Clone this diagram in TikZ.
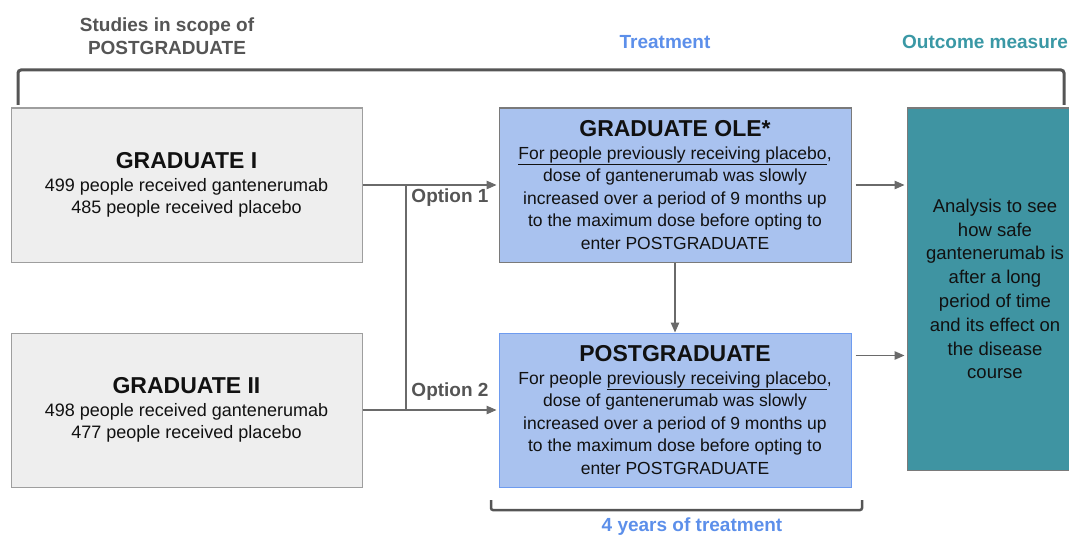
\documentclass[tikz,border=0pt]{standalone}
\usepackage{fontspec}
\setmainfont{Liberation Sans}
\usetikzlibrary{arrows.meta,calc}
\definecolor{grayfill}{HTML}{EEEEEE}
\definecolor{grayline}{HTML}{9E9E9E}
\definecolor{bluefill}{HTML}{A9C2EF}
\definecolor{blueline}{HTML}{6E9BEF}
\definecolor{darkline}{HTML}{7A7A7A}
\definecolor{tealfill}{HTML}{3F94A2}
\definecolor{conn}{HTML}{6A6A6A}
\definecolor{headgray}{HTML}{555555}
\definecolor{headblue}{HTML}{5C8FEA}
\definecolor{headteal}{HTML}{3A98A5}
\definecolor{ink}{HTML}{111111}
\tikzset{
  studybox/.style={draw=grayline, fill=grayfill, line width=1pt, minimum width=351pt, minimum height=154pt, align=center, text=ink, inner sep=0pt, font=\fontsize{18}{22.5}\selectfont},
  treatbox/.style={fill=bluefill, line width=1pt, minimum width=352pt, minimum height=154pt, align=center, text=ink, inner sep=0pt, font=\fontsize{17.5}{22.5}\selectfont},
  outbox/.style={draw=darkline, fill=tealfill, line width=1pt, minimum width=176pt, minimum height=362pt, align=center, text=ink, inner sep=0pt, font=\fontsize{18.5}{23.8}\selectfont},
  conn/.style={draw=conn, line width=1.2pt},
  arr/.style={conn, -{Triangle[length=10pt,width=8.5pt]}},
  bracket/.style={draw=headgray, line width=3pt, rounded corners=3pt},
  head/.style={font=\bfseries\fontsize{19}{23}\selectfont, align=center},
  opt/.style={font=\bfseries\fontsize{19}{22}\selectfont, text=headgray},
}
\newcommand{\ttl}[1]{{\fontsize{23}{27}\selectfont\bfseries #1}}
\begin{document}
\begin{tikzpicture}[x=1pt,y=-1pt]
\useasboundingbox (0,0) rectangle (1069,535);

% headings
\node[head, text=headgray] (hstud) at (167,36) {Studies in scope of\\POSTGRADUATE};
\node[head, text=headblue] (htreat) at (665,42) {Treatment};
\node[head, text=headteal] (hout) at (985,42) {Outcome measure};
\node[head, text=headblue] (hyears) at (692,527) {4 years of treatment};

% brackets
\draw[bracket] (18,105) -- (18,70) -- (1064,70) -- (1064,105);
\draw[bracket, line width=2.5pt, rounded corners=2pt] (491,500) -- (491,510) -- (862,510) -- (862,500);

% boxes
\node[studybox] (g1) at (186.5,185) {\ttl{GRADUATE I}\\499 people received gantenerumab\\485 people received placebo};
\node[studybox] (g2) at (186.5,410) {\ttl{GRADUATE II}\\498 people received gantenerumab\\477 people received placebo};
\node[treatbox, draw=darkline] (ole) at (675,185) {\ttl{GRADUATE OLE*}\\\underline{For people previously receiving placebo},\\dose of gantenerumab was slowly\\increased over a period of 9 months up\\to the maximum dose before opting to\\enter POSTGRADUATE};
\node[treatbox, draw=blueline] (pg) at (675,410) {\ttl{POSTGRADUATE}\\For people \underline{previously receiving placebo},\\dose of gantenerumab was slowly\\increased over a period of 9 months up\\to the maximum dose before opting to\\enter POSTGRADUATE};
\node[outbox] (out) at (995,289) {Analysis to see\\how safe\\gantenerumab is\\after a long\\period of time\\and its effect on\\the disease\\course};

% connectors
\coordinate (j1) at (406,185);
\coordinate (j2) at (406,410);
\draw[arr] (g1.east) -- ([xshift=-2pt]ole.west);
\draw[arr] (g2.east) -- ([xshift=-2pt]pg.west);
\draw[conn] (j1) -- (j2);
\node[opt, anchor=south] (o1) at (450,210) {Option 1};
\node[opt, anchor=south] (o2) at (450,404) {Option 2};
\draw[arr] (ole.south) -- (pg.north);
\coordinate (a1) at ($(ole.east)+(4,0)$);
\coordinate (a2) at ($(pg.north east)+(4,23)$);
\draw[arr] (a1) -- ([xshift=-2pt]a1 -| out.west);
\draw[arr] (a2) -- ([xshift=-2pt]a2 -| out.west);
\end{tikzpicture}
\end{document}
